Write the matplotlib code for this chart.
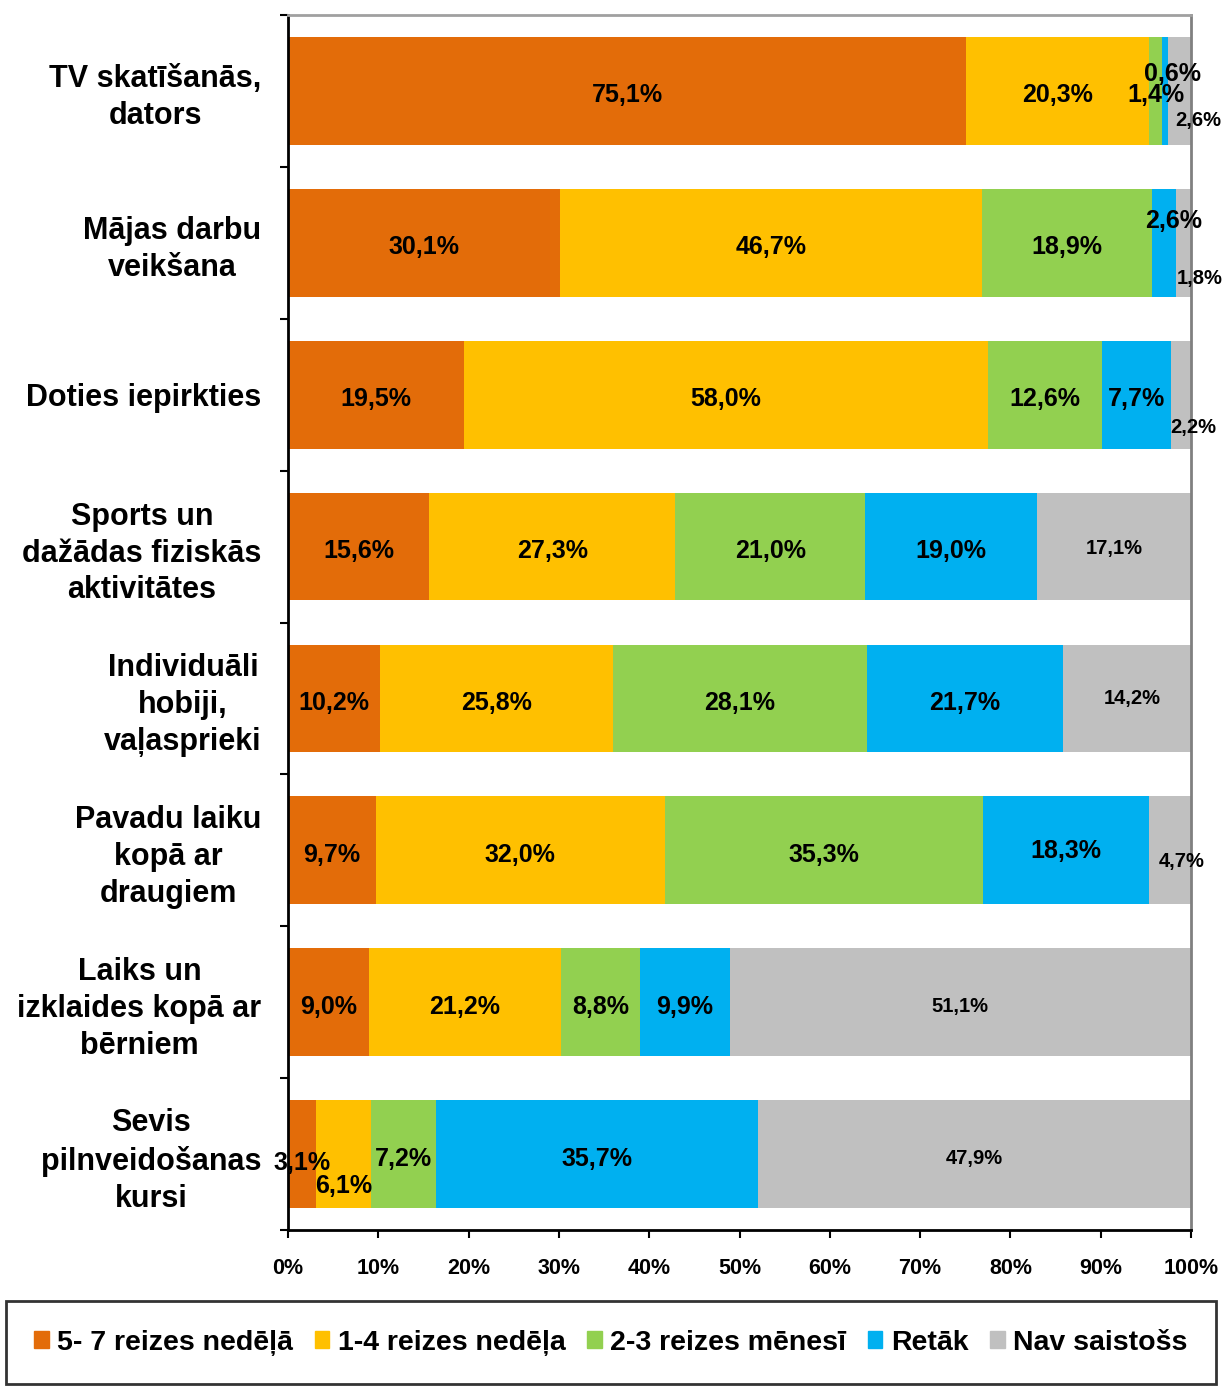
import matplotlib.pyplot as plt
from matplotlib.patches import Patch
import numpy as np

plt.rcParams['font.family'] = ['Liberation Sans', 'DejaVu Sans']
plt.rcParams['font.weight'] = 'bold'

# data
categories = ["TV skatīšanās,\ndators", "Mājas darbu\nveikšana", "Doties iepirkties",
              "Sports un\ndažādas fiziskās\naktivitātes", "Individuāli\nhobiji,\nvaļasprieki",
              "Pavadu laiku\nkopā ar\ndraugiem", "Laiks un\nizklaides kopā ar\nbērniem",
              "Sevis\npilnveidošanas\nkursi"]
series_names = ["5- 7 reizes nedēļā", "1-4 reizes nedēļa", "2-3 reizes mēnesī", "Retāk", "Nav saistošs"]
s_5_7 = [75.1, 30.1, 19.5, 15.6, 10.2, 9.7, 9.0, 3.1]
s_1_4 = [20.3, 46.7, 58.0, 27.3, 25.8, 32.0, 21.2, 6.1]
s_2_3 = [1.4, 18.9, 12.6, 21.0, 28.1, 35.3, 8.8, 7.2]
s_retak = [0.6, 2.6, 7.7, 19.0, 21.7, 18.3, 9.9, 35.7]
s_nav = [2.6, 1.8, 2.2, 17.1, 14.2, 4.7, 51.1, 47.9]
xticks = [0, 10, 20, 30, 40, 50, 60, 70, 80, 90, 100]

colors = ["#E36C09", "#FFC000", "#92D050", "#00B0F0", "#C0C0C0"]

# label nudges in pixels (dx, dy down) for crowded segments: (row, series)
nudge = {(0, 3): (8, -21), (0, 4): (19, 26), (1, 3): (10, -26), (1, 4): (16, 32),
         (2, 4): (12, 29), (5, 3): (0, -4), (5, 4): (12, 7), (7, 0): (0, 4), (7, 1): (0, 27),
         (4, 4): (5, -4), (3, 4): (0, -2)}

fig = plt.figure(figsize=(12.23, 13.91), dpi=100)
ax = fig.add_axes([288/1223, 1-1230/1391, (1191-288)/1223, (1230-15)/1391])

y = np.arange(len(categories))
left = np.zeros(len(categories))
allvals = [s_5_7, s_1_4, s_2_3, s_retak, s_nav]
for j, vals in enumerate(allvals):
    vals = np.array(vals)
    ax.barh(y, vals, left=left, height=0.71, color=colors[j], label=series_names[j])
    for i, v in enumerate(vals):
        dx, dy = nudge.get((i, j), (0, 0))
        fs = 14.5 if j == 4 else 18
        ax.annotate(f"{v:.1f}%".replace(".", ","), (left[i] + v/2, y[i]),
                    xytext=(dx*0.72, -(dy + 2)*0.72), textcoords="offset points",
                    ha="center", va="center_baseline", fontsize=fs, fontweight="bold")
    left += vals

ax.set_xlim(0, 100)
ax.set_ylim(len(categories) - 0.5, -0.5)
ax.set_xticks(xticks)
ax.set_xticklabels([f"{t}%" for t in xticks], fontsize=15.5, fontweight="bold")
ax.set_yticks(y)
ax.set_yticklabels(categories, fontsize=22, fontweight="bold", multialignment="center",
                   linespacing=1.3)
ax.set_yticks(np.arange(len(categories) + 1) - 0.5, minor=True)
ax.tick_params(axis="y", which="major", length=0, pad=19)
ax.tick_params(axis="y", which="minor", length=6, width=1.5, direction="out")
ax.tick_params(axis="x", length=6, width=1.5, direction="out", pad=14)

ax.spines["left"].set_linewidth(2)
ax.spines["bottom"].set_linewidth(2)
ax.spines["top"].set_color("#A0A0A0")
ax.spines["right"].set_color("#808080")
ax.spines["top"].set_linewidth(2)
ax.spines["right"].set_linewidth(2)

handles = [Patch(color=c) for c in colors]
leg = fig.legend(handles, series_names, loc="center", ncol=5, mode="expand",
                 bbox_to_anchor=(6/1223, 1-1387/1391, 1210/1223, 89/1391),
                 prop={"size": 20.5, "weight": "bold"}, fancybox=False, edgecolor="black",
                 handlelength=0.5, handleheight=0.5, handletextpad=0.3, columnspacing=0.8,
                 borderaxespad=0, borderpad=1.0)
leg.get_frame().set_linewidth(2)

plt.savefig("out.png", dpi=100)
